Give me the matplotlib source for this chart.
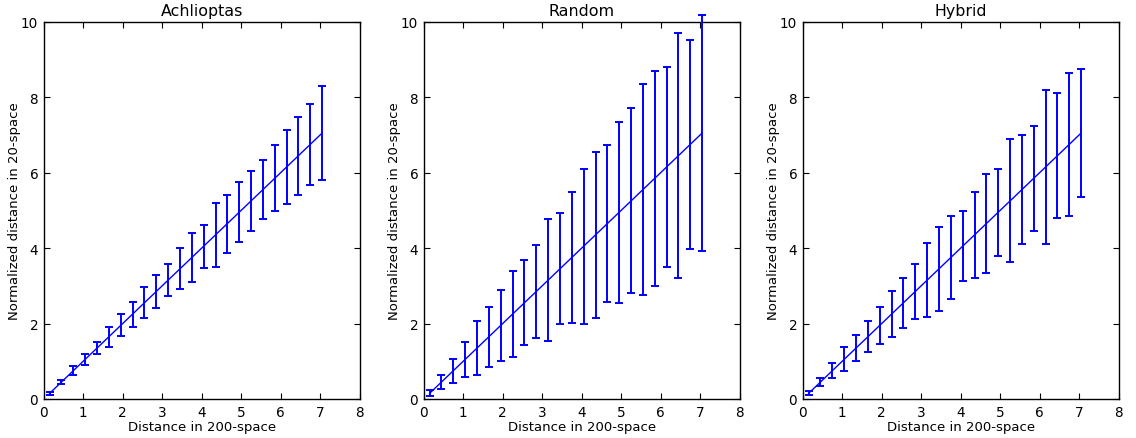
import matplotlib
matplotlib.use("Agg")
import matplotlib.pyplot as plt

titles = ["Achlioptas", "Random", "Hybrid"]
x_vals = [0.15, 0.45, 0.75, 1.05, 1.35, 1.65, 1.95, 2.25, 2.55, 2.85, 3.15, 3.45,
          3.75, 4.05, 4.35, 4.65, 4.95, 5.25, 5.55, 5.85, 6.15, 6.45, 6.75, 7.05]
y_means = [0.15, 0.45, 0.75, 1.05, 1.35, 1.65, 1.95, 2.25, 2.55, 2.85, 3.15, 3.45,
           3.75, 4.05, 4.35, 4.65, 4.95, 5.25, 5.55, 5.85, 6.15, 6.45, 6.75, 7.05]
err_achlioptas = [0.04, 0.065, 0.115, 0.145, 0.17, 0.26, 0.29, 0.33, 0.41, 0.44, 0.42, 0.54,
                  0.65, 0.57, 0.84, 0.77, 0.79, 0.79, 0.78, 0.88, 0.99, 1.03, 1.07, 1.24]
err_random = [0.08, 0.19, 0.32, 0.47, 0.71, 0.80, 0.94, 1.13, 1.13, 1.24, 1.61, 1.47,
              1.74, 2.05, 2.20, 2.07, 2.40, 2.45, 2.80, 2.85, 2.64, 3.25, 2.77, 3.12]
err_hybrid = [0.05, 0.11, 0.20, 0.32, 0.345, 0.41, 0.485, 0.60, 0.66, 0.72, 0.98, 1.12,
              1.10, 0.92, 1.13, 1.32, 1.15, 1.63, 1.45, 1.39, 2.03, 1.66, 1.90, 1.69]
errors = [err_achlioptas, err_random, err_hybrid]

plt.rcParams['font.family'] = ['DejaVu Sans']
fig = plt.figure(figsize=(11.36, 4.39), dpi=100)
fig.patch.set_facecolor('white')

lefts = [43.7 / 1136, 423.7 / 1136, 802.7 / 1136]
width = 316 / 1136
bottom = 39 / 439
height = 377.3 / 439

for left, title, err in zip(lefts, titles, errors):
    ax = fig.add_axes([left, bottom, width, height])
    cont = ax.errorbar(x_vals, y_means, yerr=err, color='b', ecolor='b', linewidth=1.0,
                       elinewidth=1.4, capsize=3, capthick=1.4)
    for art in cont.get_children():
        art.set_clip_on(False)
    ax.set_xlim(0, 8)
    ax.set_ylim(0, 10)
    ax.set_xticks([0, 1, 2, 3, 4, 5, 6, 7, 8])
    ax.set_yticks([0, 2, 4, 6, 8, 10])
    ax.tick_params(direction='in', top=True, right=True, labelsize=9.8, length=4,
                   pad=4)
    for sp in ax.spines.values():
        sp.set_linewidth(1.0)
        sp.set_zorder(0.5)
    ax.set_title(title, fontsize=11.4, pad=5)
    ax.set_xlabel("Distance in 200-space", fontsize=9.5, labelpad=1)
    ax.set_ylabel("Normalized distance in 20-space", fontsize=9.5, labelpad=0)

fig.savefig("out.png", dpi=100, facecolor='white')
